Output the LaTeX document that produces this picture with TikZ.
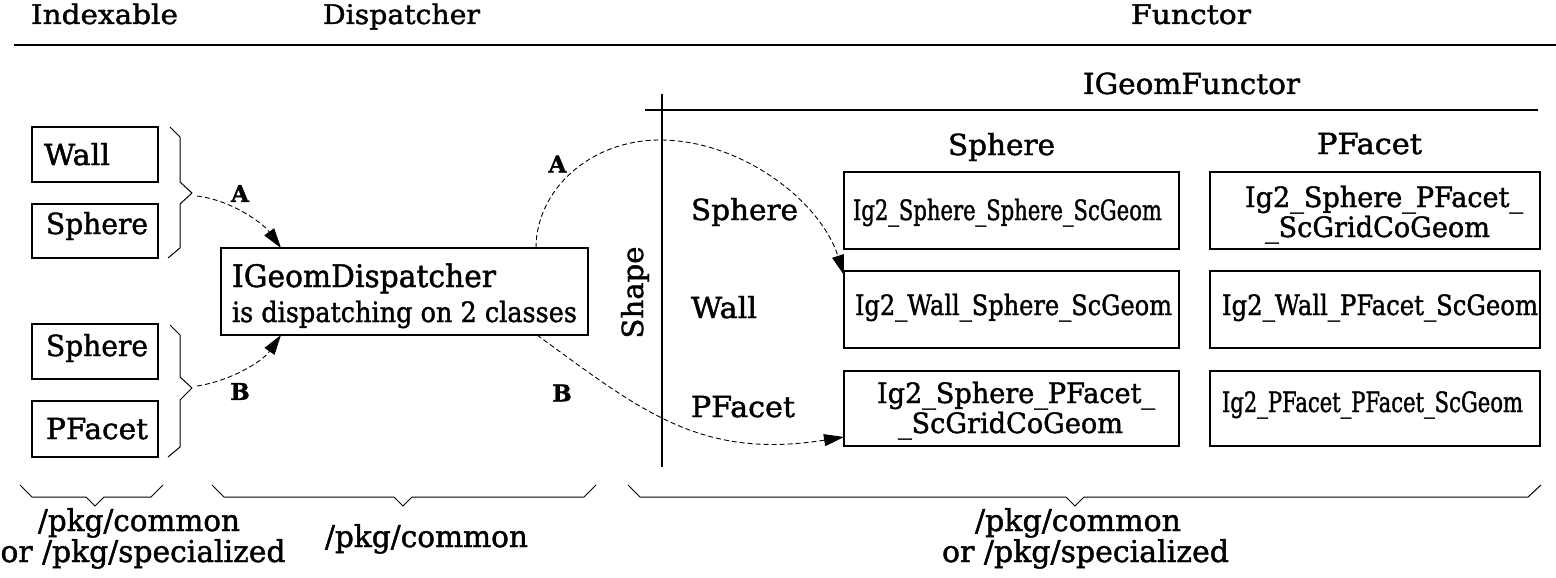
\documentclass[tikz,border=0pt]{standalone}
\usepackage{fontspec}
\setmainfont{DejaVu Serif}[FakeBold=1.4]
\usetikzlibrary{arrows.meta,calc}
% squeeze or stretch a text horizontally to a given width (in pt)
\newcommand\fitw[2]{\resizebox{#1pt}{\height}{#2}}

\begin{document}
\begin{tikzpicture}[x=1pt,y=-1pt,
  txt/.style={inner sep=0pt, outer sep=0pt, font=\fontsize{29}{32}\selectfont},
  hdr/.style={txt, anchor=base, font=\fontsize{27}{30}\selectfont},
  boxtxt/.style={txt, anchor=base, font=\fontsize{28}{30}\selectfont},
  lefttxt/.style={txt, anchor=base west},
  pkgtxt/.style={txt, anchor=base, font=\fontsize{30}{32}\selectfont},
  cell/.style={draw, line width=1.1pt, inner sep=0pt, outer sep=0pt},
  tag/.style={txt, font=\fontsize{23}{24}\selectfont\bfseries},
  flow/.style={line width=0.9pt, dash pattern=on 5pt off 3pt, -{Triangle[length=20pt,width=12pt]}},
  rule/.style={line width=1.1pt},
  brace/.style={line width=1pt, line join=miter}]

\fill[white] (0,0) rectangle (1556,578);
\useasboundingbox (0,0) rectangle (1556,578);

% column titles
\node[hdr] (tIdx)  at (104.5,24) {\fitw{147}{Indexable}};
\node[hdr] (tDisp) at (401.5,24) {\fitw{157}{Dispatcher}};
\node[hdr] (tFun)  at (1191,24)  {\fitw{120}{Functor}};
\draw[rule] (14,45) -- (1556,45);

% indexable classes
\node[cell, minimum width=126pt, minimum height=55pt] (iWall)  at (95,154.5) {};
\node[cell, minimum width=126pt, minimum height=54pt] (iSph)   at (95,231)   {};
\node[cell, minimum width=126pt, minimum height=55pt] (iSph2)  at (95,351.5) {};
\node[cell, minimum width=126pt, minimum height=56pt] (iPF)    at (95,429)   {};
\node[lefttxt] (iWallT) at (44,165) {\fitw{66}{Wall}};
\node[lefttxt] (iSphT)  at (46,234) {\fitw{102}{Sphere}};
\node[lefttxt] (iSph2T) at (46,356) {\fitw{102}{Sphere}};
\node[lefttxt] (iPFT)   at (46,439) {\fitw{102}{PFacet}};

% grouping braces
\draw[brace] (170,127) -- (180,137) -- (180,182) -- (192,193) -- (180,204) -- (180,248) -- (168,258);
\coordinate (bA) at (197,196);
\draw[brace] (170,325) -- (180,335) -- (180,377) -- (192,388) -- (180,400) -- (180,447) -- (168,457);
\coordinate (bB) at (197,386);

% dispatcher
\node[cell, minimum width=367pt, minimum height=87pt] (disp) at (404.5,291.5) {};
\node[lefttxt, font=\fontsize{31}{32}\selectfont] (dispT1) at (232,287) {\fitw{264}{IGeomDispatcher}};
\node[lefttxt, font=\fontsize{28}{32}\selectfont] (dispT2) at (232,322) {\fitw{345}{is dispatching on 2 classes}};

\draw[flow] (bA) .. controls (230,200) and (262,222) .. ($(disp.north west)+(60,0)$);
\node[tag] (lA1) at (240,193.5) {A};
\draw[flow] (bB) .. controls (230,381) and (262,362) .. ($(disp.south west)+(60,0)$);
\node[tag] (lB1) at (240,391.5) {B};

% functor table
\node[hdr, font=\fontsize{29}{32}\selectfont] (fun) at (1191.5,94) {\fitw{217}{IGeomFunctor}};
\draw[rule] (645,110) -- (1538,110);
\draw[rule] (662,94) -- (662,467);
\node[txt, rotate=90, anchor=base] (shape) at (643,292.5) {\fitw{92}{Shape}};

\node[hdr, font=\fontsize{29}{32}\selectfont] (colS) at (1001.5,155) {\fitw{107}{Sphere}};
\node[hdr, font=\fontsize{29}{32}\selectfont] (colP) at (1369.5,154) {\fitw{105}{PFacet}};

\node[lefttxt] (rS) at (691,220) {\fitw{107}{Sphere}};
\node[lefttxt] (rW) at (691,318) {\fitw{66}{Wall}};
\node[lefttxt] (rP) at (691,417) {\fitw{104}{PFacet}};

\node[cell, minimum width=335pt, minimum height=77pt] (c11) at (1011.5,210.5) {};
\node[cell, minimum width=335pt, minimum height=77pt] (c21) at (1011.5,309.5) {};
\node[cell, minimum width=335pt, minimum height=75pt] (c31) at (1011.5,408.5) {};
\node[cell, minimum width=330pt, minimum height=77pt] (c12) at (1375,210.5) {};
\node[cell, minimum width=330pt, minimum height=77pt] (c22) at (1375,309.5) {};
\node[cell, minimum width=330pt, minimum height=75pt] (c32) at (1375,408.5) {};

\node[boxtxt] (c11T)  at (1007.5,220) {\fitw{309}{Ig2\_Sphere\_Sphere\_ScGeom}};
\node[boxtxt] (c21T)  at (1013.5,315) {\fitw{317}{Ig2\_Wall\_Sphere\_ScGeom}};
\node[boxtxt] (c31Ta) at (1016,403)   {\fitw{278}{Ig2\_Sphere\_PFacet\_}};
\node[boxtxt] (c31Tb) at (1010.5,433) {\fitw{225}{\_ScGridCoGeom}};
\node[boxtxt] (c12Ta) at (1384,207)   {\fitw{278}{Ig2\_Sphere\_PFacet\_}};
\node[boxtxt] (c12Tb) at (1377.5,237) {\fitw{225}{\_ScGridCoGeom}};
\node[boxtxt] (c22T)  at (1380,315)   {\fitw{316}{Ig2\_Wall\_PFacet\_ScGeom}};
\node[boxtxt] (c32T)  at (1372.5,412) {\fitw{301}{Ig2\_PFacet\_PFacet\_ScGeom}};

\draw[flow] ($(disp.north west)+(315,0)$) .. controls (536,190) and (590,140) .. (660,140)
            .. controls (740,140) and (820,200) .. ($(c21.north west)+(0,4)$);
\node[tag] (rA) at (557.5,164) {A};
\draw[flow] ($(disp.south west)+(316,0)$) .. controls (640,410) and (700,460) .. ($(c31.south west)+(0,-9)$);
\node[tag] (rB) at (562,393) {B};

% package braces
\draw[brace] (20,485) -- (32,497) -- (86,497) -- (95,506) -- (104,497) -- (151,497) -- (163,485);
\draw[brace] (212,485) -- (224,497) -- (394,497) -- (403,506) -- (412,497) -- (584,497) -- (596,485);
\draw[brace] (628,485) -- (640,497) -- (1066,497) -- (1075,506) -- (1084,497) -- (1528,497) -- (1541,485);

\node[pkgtxt] (pL1) at (139,531)    {\fitw{202}{/pkg/common}};
\node[pkgtxt] (pL2) at (143,562)    {\fitw{285}{or /pkg/specialized}};
\node[pkgtxt] (pM)  at (426.5,547)  {\fitw{203}{/pkg/common}};
\node[pkgtxt] (pR1) at (1078,531)   {\fitw{206}{/pkg/common}};
\node[pkgtxt] (pR2) at (1085.5,562) {\fitw{287}{or /pkg/specialized}};
\end{tikzpicture}
\end{document}
